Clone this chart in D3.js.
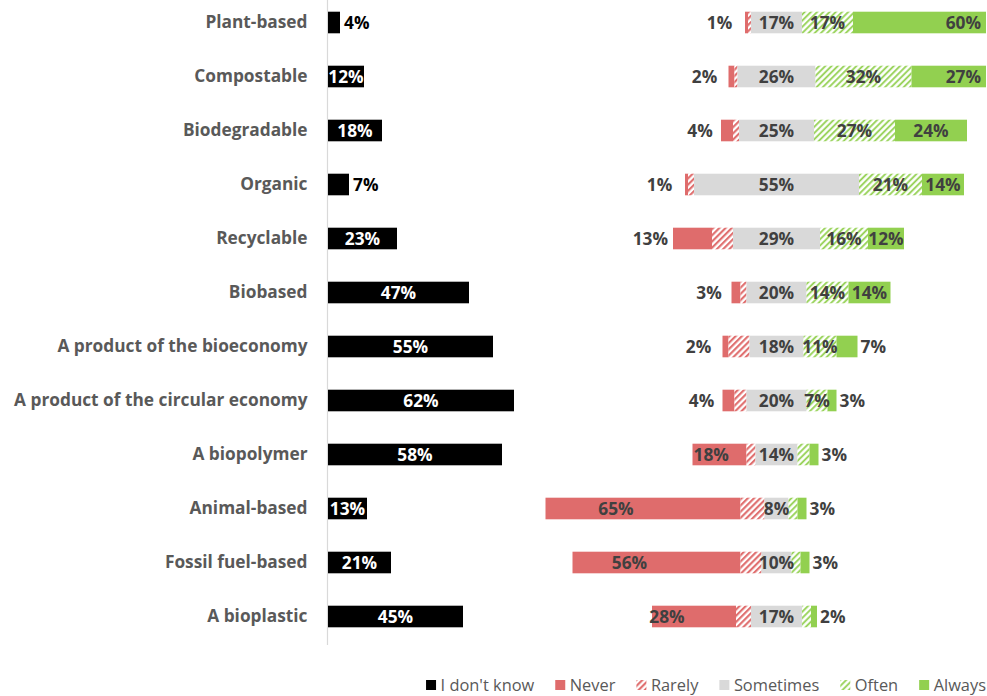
<!DOCTYPE html>
<html>
<head>
<meta charset="utf-8">
<script src="https://cdn.jsdelivr.net/npm/d3@7"></script>
<style>
  html, body { margin: 0; padding: 0; background: #fff; }
  svg { display: block; }
  text { font-family: "Open Sans", Lato, sans-serif; }
</style>
</head>
<body>
<svg id="chart" width="987" height="696"></svg>
<script>
// Claims on product labels: share of respondents per answer (%)
const categories = [
  "Plant-based", "Compostable", "Biodegradable", "Organic", "Recyclable",
  "Biobased", "A product of the bioeconomy", "A product of the circular economy",
  "A biopolymer", "Animal-based", "Fossil fuel-based", "A bioplastic"
];
const dontKnow  = [4, 12, 18, 7, 23, 47, 55, 62, 58, 13, 21, 45];
const never     = [1, 2, 4, 1, 13, 3, 2, 4, 18, 65, 56, 28];
const rarely    = [1, 1, 2, 2, 7, 2, 7, 4, 3, 8, 7, 5];
const sometimes = [17, 26, 25, 55, 29, 20, 18, 20, 14, 8, 10, 17];
const often     = [17, 32, 27, 21, 16, 14, 11, 7, 4, 3, 3, 3];
const always    = [60, 27, 24, 14, 12, 14, 7, 3, 3, 3, 3, 2];

const seriesNames = ["I don't know", "Never", "Rarely", "Sometimes", "Often", "Always"];

const COL = {
  black: "#000000",
  red: "#DF6C6C",
  gray: "#D9D9D9",
  green: "#92D050",
  label: "#595959",
  value: "#404040"
};
const FONT = "'Open Sans', Lato, sans-serif";
const VALUE_SIZE = 17.3;

const svg = d3.select("#chart");
const W = 987;

// hatch patterns for the "Rarely" and "Often" segments
const defs = svg.append("defs");
function hatch(id, color, sw) {
  const p = defs.append("pattern")
    .attr("id", id)
    .attr("patternUnits", "userSpaceOnUse")
    .attr("width", 4.4).attr("height", 4.4)
    .attr("patternTransform", "rotate(45)");
  p.append("rect").attr("width", 4.4).attr("height", 4.4).attr("fill", "#fff");
  p.append("line").attr("x1", 1.1).attr("x2", 1.1).attr("y1", 0).attr("y2", 4.4)
    .attr("stroke", color).attr("stroke-width", sw);
}
hatch("hatchRed", COL.red, 2.1);
hatch("hatchGreen", COL.green, 1.8);

defs.append("clipPath").attr("id", "rightClip")
  .append("rect").attr("x", 520).attr("y", -10).attr("width", 466).attr("height", 680);

// scales
const y = d3.scaleBand().domain(categories).range([-4.5, 643.5])
  .paddingInner(0.6).paddingOuter(0.3);
const xLeft = d3.scaleLinear().domain([0, 100]).range([328, 628]);
const xRight = d3.scaleLinear().domain([-80, 70]).range([536.5, 986.5]);

// category axis
const yAxis = d3.axisLeft(y).tickSize(0).tickPadding(20);
const gAxis = svg.append("g").attr("transform", "translate(327.5,0)").call(yAxis);
gAxis.select(".domain").remove();
gAxis.selectAll("text")
  .attr("font-size", 17.3).attr("font-weight", 700).attr("fill", COL.label)
  .style("font-family", FONT);
svg.append("line").attr("x1", 327.5).attr("x2", 327.5).attr("y1", 0).attr("y2", 645)
  .attr("stroke", "#D9D9D9").attr("stroke-width", 1.2);

// ---- "I don't know" bars ----
const leftRows = categories.map((c, i) => ({ c, v: dontKnow[i] }));
const gl = svg.append("g");
gl.selectAll("rect").data(leftRows).join("rect")
  .attr("x", xLeft(0)).attr("y", d => y(d.c))
  .attr("width", d => xLeft(d.v) - xLeft(0)).attr("height", y.bandwidth())
  .attr("fill", COL.black);

gl.selectAll("text.v").data(leftRows).join("text").attr("class", "v")
  .attr("font-size", VALUE_SIZE).attr("font-weight", 700)
  .attr("y", d => y(d.c) + y.bandwidth() / 2).attr("dy", "0.36em")
  .text(d => d.v + "%")
  .each(function (d) {
    const tw = this.getComputedTextLength();
    const bw = xLeft(d.v) - xLeft(0);
    const t = d3.select(this);
    if (bw >= tw - 2) {
      t.attr("x", xLeft(0) + bw / 2).attr("text-anchor", "middle").attr("fill", "#fff");
    } else {
      t.attr("x", xLeft(d.v) + 4).attr("text-anchor", "start").attr("fill", COL.black);
    }
  });

// ---- diverging frequency bars ----
const keys = ["never", "rarely", "sometimes", "often", "always"];
const vals = { never, rarely, sometimes, often, always };
const fills = {
  never: COL.red, rarely: "url(#hatchRed)", sometimes: COL.gray,
  often: "url(#hatchGreen)", always: COL.green
};
const segs = [];
categories.forEach((c, i) => {
  let start = -(never[i] + rarely[i] + sometimes[i] / 2);
  keys.forEach(k => {
    const v = vals[k][i];
    segs.push({ c, k, v, x0: start, x1: start + v });
    start += v;
  });
});

const gr = svg.append("g").attr("clip-path", "url(#rightClip)");
gr.selectAll("rect").data(segs).join("rect")
  .attr("x", d => xRight(d.x0)).attr("y", d => y(d.c))
  .attr("width", d => xRight(d.x1) - xRight(d.x0)).attr("height", y.bandwidth())
  .attr("fill", d => fills[d.k]);

const clipRight = 986;
const labelled = segs.filter(d =>
  d.k === "never" || d.k === "sometimes" || d.k === "always" || (d.k === "often" && d.v >= 5));

svg.append("g").selectAll("text").data(labelled).join("text")
  .attr("font-size", VALUE_SIZE).attr("font-weight", 700).attr("fill", COL.value)
  .attr("text-anchor", "middle")
  .attr("y", d => y(d.c) + y.bandwidth() / 2).attr("dy", "0.36em")
  .text(d => d.v + "%")
  .each(function (d) {
    const tw = this.getComputedTextLength();
    const a = xRight(d.x0), b = xRight(d.x1), bw = b - a;
    let cx = (a + b) / 2;
    if (d.k === "never") {
      cx = (a + b) / 2 - 27;
      const overlaps = cx - tw / 2 < a - 4 && cx + tw / 2 > a;
      if (overlaps) {
        cx = bw >= tw + 10 ? a + tw / 2 + 1 : a - 5 - tw / 2;
      }
    } else if (d.k === "always") {
      if (b > clipRight) cx = clipRight - 5 - tw / 2;
      else if (bw < tw - 4) cx = b + 3 + tw / 2;
    }
    d3.select(this).attr("x", cx);
  });

// ---- legend ----
const legendItems = [
  { name: seriesNames[0], fill: COL.black },
  { name: seriesNames[1], fill: COL.red },
  { name: seriesNames[2], fill: "url(#hatchRed)" },
  { name: seriesNames[3], fill: COL.gray },
  { name: seriesNames[4], fill: "url(#hatchGreen)" },
  { name: seriesNames[5], fill: COL.green }
];
const gLeg = svg.append("g");
const items = gLeg.selectAll("g").data(legendItems).join("g");
items.append("rect").attr("width", 10).attr("height", 10).attr("y", 680)
  .attr("fill", d => d.fill);
items.append("text").attr("x", 14.5).attr("y", 685).attr("dy", "0.36em")
  .attr("font-size", 16.4).attr("fill", COL.label).text(d => d.name);
// lay the legend out right to left from the right edge
const widths = [];
items.each(function () { widths.push(d3.select(this).select("text").node().getComputedTextLength() + 14.5); });
let xpos = W - 1;
for (let i = legendItems.length - 1; i >= 0; i--) {
  xpos -= widths[i];
  d3.select(items.nodes()[i]).attr("transform", `translate(${xpos},0)`);
  xpos -= 21;
}
</script>
</body>
</html>
